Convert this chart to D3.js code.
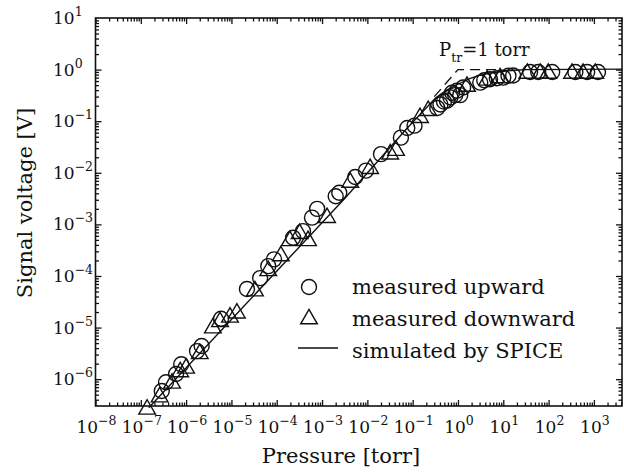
<!DOCTYPE html>
<html>
<head>
<meta charset="utf-8">
<script src="https://cdn.jsdelivr.net/npm/d3@7"></script>
<style>
  body { margin: 0; background: #fff; }
  svg { display: block; }
  text { font-family: "DejaVu Serif", serif; fill: #111; }
</style>
</head>
<body>
<div id="chart"></div>
<script>
// measured while pressure goes up (circles)
const upP = [2.9e-7, 3.6e-7, 6.0e-7, 7.8e-7, 1.74e-6, 2.2e-6, 5.9e-6, 2.2e-5, 4.3e-5, 6.5e-5,
  8.7e-5, 2.3e-4, 3.8e-4, 6.0e-4, 7.8e-4, 2.0e-3, 2.4e-3, 5.4e-3, 9.3e-3, 2.0e-2,
  5.5e-2, 7.6e-2, 0.11, 0.35, 0.41, 0.49, 0.57, 0.68, 0.74, 0.87, 0.95, 1.12, 1.3,
  3.1, 3.8, 5.1, 7.2, 10, 13, 16.5, 39, 59, 120, 390, 710, 1230];
const upV = [5.9e-7, 8.7e-7, 1.26e-6, 1.95e-6, 3.5e-6, 4.4e-6, 1.48e-5, 5.6e-5, 9.1e-5, 1.55e-4,
  2.1e-4, 5.5e-4, 7.4e-4, 1.35e-3, 2.0e-3, 3.5e-3, 4.1e-3, 8.3e-3, 1.1e-2, 2.3e-2,
  4.8e-2, 7.4e-2, 8.2e-2, 0.18, 0.21, 0.24, 0.25, 0.29, 0.355, 0.32, 0.39, 0.32, 0.45,
  0.56, 0.62, 0.65, 0.68, 0.70, 0.76, 0.77, 0.9, 0.9, 0.9, 0.9, 0.9, 0.9];

// measured while pressure goes down (triangles)
const downP = [1.38e-7, 2.6e-7, 4.9e-7, 7.4e-7, 1.0e-6, 2.0e-6, 3.9e-6, 5.6e-6, 9.3e-6, 1.32e-5,
  3.3e-5, 6.5e-5, 1.23e-4, 1.95e-4, 3.2e-4, 4.9e-4, 1.29e-3, 4.2e-3, 1.15e-2, 3.2e-2,
  4.3e-2, 0.145, 0.22, 1.58, 4.4, 8.5, 34, 65, 98, 330, 575, 1070];
const downV = [2.6e-7, 4.5e-7, 8.3e-7, 1.38e-6, 1.62e-6, 3.1e-6, 9.8e-6, 1.29e-5, 1.58e-5, 1.9e-5,
  5.1e-5, 1.26e-4, 2.45e-4, 4.8e-4, 6.6e-4, 4.8e-4, 1.35e-3, 6.5e-3, 1.2e-2, 2.3e-2,
  2.7e-2, 0.117, 0.16, 0.47, 0.62, 0.69, 0.84, 0.84, 0.84, 0.84, 0.84, 0.84];

// SPICE simulation
const spiceP = [1.5e-7, 3.2e-3, 7.6e-2, 0.32, 0.56, 1, 1.8, 3.2, 5.6, 10, 18, 32, 4170];
const spiceV = [2.8e-7, 3.2e-3, 7.4e-2, 0.28, 0.40, 0.52, 0.67, 0.79, 0.87, 0.93, 0.97, 1.0, 1.02];

// asymptotes through P_tr
const asymP = [0.3, 1, 7];
const asymV = [0.3, 1, 1];

const xExp = [-8, -7, -6, -5, -4, -3, -2, -1, 0, 1, 2, 3];
const yExp = [1, 0, -1, -2, -3, -4, -5, -6];
const legendLabels = ["measured upward", "measured downward", "simulated by SPICE"];

const width = 624, height = 473;
const box = { left: 95.5, right: 622, top: 18, bottom: 406 };

const svg = d3.select("#chart").append("svg")
  .attr("width", width).attr("height", height);

const x = d3.scaleLog().domain([1e-8, Math.pow(10, 3.62)]).range([box.left, box.right]);
const y = d3.scaleLog().domain([Math.pow(10, -6.52), 10]).range([box.bottom, box.top]);

const minors = (scale) => {
  const [a, b] = scale.domain();
  const out = [];
  for (let e = Math.floor(Math.log10(a)); e <= Math.ceil(Math.log10(b)); e++) {
    for (let k = 2; k <= 9; k++) {
      const v = k * Math.pow(10, e);
      if (v > a && v < b) out.push(v);
    }
  }
  return out;
};
const xMajor = xExp.map((e) => Math.pow(10, e));
const yMajor = yExp.map((e) => Math.pow(10, e)).filter((v) => v < 10);

// inward ticks on all four sides
const tickAxis = (axis, vals, len, tr) => {
  const g = svg.append("g")
    .attr("transform", tr)
    .call(axis.tickValues(vals).tickSize(-len).tickSizeOuter(0).tickFormat(""));
  g.select(".domain").remove();
  g.selectAll("line").attr("stroke", "#111").attr("stroke-width", 1.3);
};
tickAxis(d3.axisBottom(x), xMajor, 6, `translate(0,${box.bottom})`);
tickAxis(d3.axisBottom(x), minors(x), 3.5, `translate(0,${box.bottom})`);
tickAxis(d3.axisTop(x), xMajor, 6, `translate(0,${box.top})`);
tickAxis(d3.axisTop(x), minors(x), 3.5, `translate(0,${box.top})`);
tickAxis(d3.axisLeft(y), yMajor, 6, `translate(${box.left},0)`);
tickAxis(d3.axisLeft(y), minors(y), 3.5, `translate(${box.left},0)`);
tickAxis(d3.axisRight(y), yMajor, 6, `translate(${box.right},0)`);
tickAxis(d3.axisRight(y), minors(y), 3.5, `translate(${box.right},0)`);

svg.append("rect")
  .attr("x", box.left).attr("y", box.top)
  .attr("width", box.right - box.left).attr("height", box.bottom - box.top)
  .attr("fill", "none").attr("stroke", "#111").attr("stroke-width", 1.6);

const expLabel = (sel, e) => {
  sel.append("tspan").text("10");
  sel.append("tspan").attr("dy", -8).attr("font-size", 12.5)
    .text(e < 0 ? "\u2212" + (-e) : String(e));
};

// x tick labels
svg.append("g").selectAll("text").data(xExp).join("text")
  .attr("x", (e) => x(Math.pow(10, e)) + 1)
  .attr("y", 433)
  .attr("text-anchor", "middle")
  .attr("font-size", 17)
  .each(function (e) { expLabel(d3.select(this), e); });

// y tick labels
svg.append("g").selectAll("text").data(yExp).join("text")
  .attr("x", 53)
  .attr("y", (e) => y(Math.pow(10, e)) + 6)
  .attr("font-size", 17)
  .each(function (e) { expLabel(d3.select(this), e); });

svg.append("text")
  .attr("x", 341).attr("y", 463)
  .attr("text-anchor", "middle").attr("font-size", 21)
  .text("Pressure [torr]");

svg.append("text")
  .attr("transform", "translate(32,203) rotate(-90)")
  .attr("text-anchor", "middle").attr("font-size", 21)
  .text("Signal voltage [V]");

// asymptotes (dashed)
svg.append("path")
  .datum(d3.zip(asymP, asymV))
  .attr("fill", "none").attr("stroke", "#111").attr("stroke-width", 1.3)
  .attr("stroke-dasharray", "10,6")
  .attr("d", d3.line().x((d) => x(d[0])).y((d) => y(d[1])));

// SPICE line
svg.append("path")
  .datum(d3.zip(spiceP, spiceV))
  .attr("fill", "none").attr("stroke", "#111").attr("stroke-width", 1.4)
  .attr("d", d3.line().x((d) => x(d[0])).y((d) => y(d[1])));

const tri = d3.symbol(d3.symbolTriangle, 120);

svg.append("g").selectAll("circle").data(d3.zip(upP, upV)).join("circle")
  .attr("cx", (d) => x(d[0])).attr("cy", (d) => y(d[1]))
  .attr("r", 7.5)
  .attr("fill", "none").attr("stroke", "#111").attr("stroke-width", 1.4);

svg.append("g").selectAll("path").data(d3.zip(downP, downV)).join("path")
  .attr("transform", (d) => `translate(${x(d[0])},${y(d[1])})`)
  .attr("d", tri)
  .attr("fill", "none").attr("stroke", "#111").attr("stroke-width", 1.4);

svg.append("text")
  .attr("x", 439).attr("y", 56).attr("font-size", 18)
  .call((t) => {
    t.append("tspan").text("P");
    t.append("tspan").attr("dy", 6).attr("font-size", 12.5).text("tr");
    t.append("tspan").attr("dy", -6).text("=1 torr");
  });

// legend
const lg = svg.append("g");
lg.append("circle").attr("cx", 309).attr("cy", 287).attr("r", 7.5)
  .attr("fill", "none").attr("stroke", "#111").attr("stroke-width", 1.4);
lg.append("path").attr("transform", "translate(309,319)").attr("d", tri)
  .attr("fill", "none").attr("stroke", "#111").attr("stroke-width", 1.4);
lg.append("line").attr("x1", 298).attr("x2", 338).attr("y1", 348).attr("y2", 348)
  .attr("stroke", "#111").attr("stroke-width", 1.4);
lg.selectAll("text").data(legendLabels).join("text")
  .attr("x", 352).attr("y", (d, i) => 294 + i * 32.2)
  .attr("font-size", 21)
  .text((d) => d);
</script>
</body>
</html>
